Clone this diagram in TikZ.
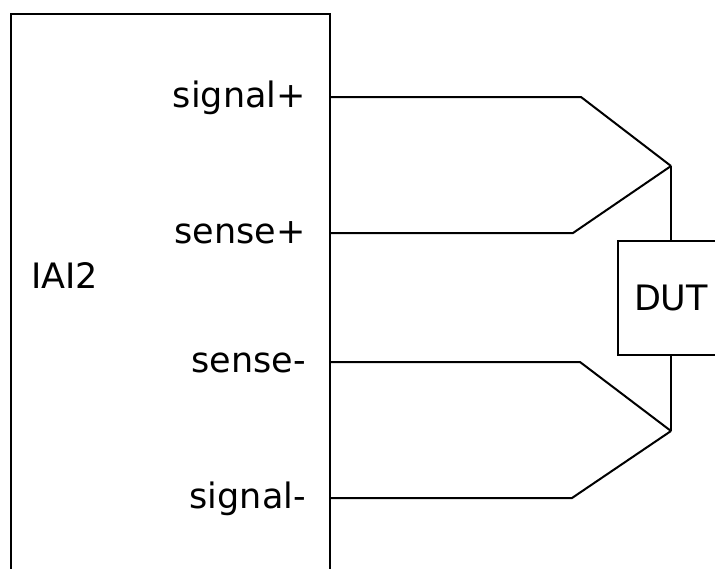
\documentclass[tikz,border=0pt]{standalone}
\usepackage{fontspec}
\setmainfont{DejaVu Sans}
\usepackage{tikz}

\begin{document}
\begin{tikzpicture}[x=1pt,y=-1pt,
    box/.style={draw,line width=1.8pt,inner sep=0pt},
    lbl/.style={font=\fontsize{35}{42}\selectfont,inner sep=0pt},
    wire/.style={line width=2pt}]
    \useasboundingbox (0,0) rectangle (715,568);
    % instrument and device
    \node[box,minimum width=319pt,minimum height=600pt,anchor=north west] (iai) at (10,13) {};
    \node[lbl,anchor=base west] (iainame) at (31,288) {IAI2};
    \node[box,lbl,minimum width=106pt,minimum height=114pt] (dut) at (671,298) {DUT};
    % terminal labels
    \node[lbl,anchor=base east] (sigp) at (306,107) {signal+};
    \node[lbl,anchor=base east] (senp) at (306,243) {sense+};
    \node[lbl,anchor=base east] (senm) at (306,372) {sense-};
    \node[lbl,anchor=base east] (sigm) at (306,508) {signal-};
    % terminals, bends and junctions
    \coordinate (tsigp) at (329,97);
    \coordinate (tsenp) at (329,233);
    \coordinate (tsenm) at (329,362);
    \coordinate (tsigm) at (329,498);
    \coordinate (bsigp) at (581,97);
    \coordinate (bsenp) at (573,233);
    \coordinate (bsenm) at (580,362);
    \coordinate (bsigm) at (572,498);
    \coordinate (jtop) at (671,166);
    \coordinate (jbot) at (671,431);
    % wiring
    \draw[wire] (tsigp) -- (bsigp) -- (jtop);
    \draw[wire] (tsenp) -- (bsenp) -- (jtop);
    \draw[wire] (tsenm) -- (bsenm) -- (jbot);
    \draw[wire] (tsigm) -- (bsigm) -- (jbot);
    \draw[wire] (jtop) -- (dut.north);
    \draw[wire] (dut.south) -- (jbot);
\end{tikzpicture}
\end{document}
